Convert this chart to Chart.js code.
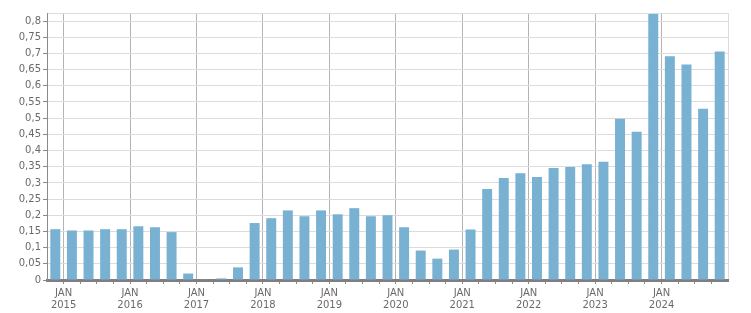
<!DOCTYPE html>
<html>
<head>
<meta charset="utf-8">
<script src="https://cdn.jsdelivr.net/npm/chart.js@4"></script>
<style>
  body { margin: 0; background: #fff; }
  canvas { display: block; }
</style>
</head>
<body>
<canvas id="myChart" width="751" height="313"></canvas>
<script>
// quarterly values, Q4 2014 .. Q4 2024
var quarters = [
  '2014 Q4',
  '2015 Q1', '2015 Q2', '2015 Q3', '2015 Q4',
  '2016 Q1', '2016 Q2', '2016 Q3', '2016 Q4',
  '2017 Q1', '2017 Q2', '2017 Q3', '2017 Q4',
  '2018 Q1', '2018 Q2', '2018 Q3', '2018 Q4',
  '2019 Q1', '2019 Q2', '2019 Q3', '2019 Q4',
  '2020 Q1', '2020 Q2', '2020 Q3', '2020 Q4',
  '2021 Q1', '2021 Q2', '2021 Q3', '2021 Q4',
  '2022 Q1', '2022 Q2', '2022 Q3', '2022 Q4',
  '2023 Q1', '2023 Q2', '2023 Q3', '2023 Q4',
  '2024 Q1', '2024 Q2', '2024 Q3', '2024 Q4'
];
var values = [
  0.157,
  0.153, 0.153, 0.157, 0.157,
  0.166, 0.163, 0.148, 0.020,
  0.002, 0.005, 0.039, 0.176,
  0.191, 0.215, 0.197, 0.215,
  0.203, 0.222, 0.197, 0.200,
  0.163, 0.091, 0.066, 0.094,
  0.156, 0.281, 0.315, 0.330,
  0.318, 0.346, 0.349, 0.358,
  0.365, 0.498, 0.458, 0.822,
  0.691, 0.666, 0.529, 0.706
];
var yearLabelPrefix = 'JAN';
var yMax = 0.825;
var yStep = 0.05;
var xMin = 2014.75, xMax = 2025;

// bar sits in the middle of its quarter on a time-like linear axis
function quarterPos(q) {
  var p = q.split(' Q');
  return +p[0] + (+p[1] - 1) * 0.25 + 0.125;
}

function fmt(v) {
  return String(Math.round(v * 100) / 100).replace('.', ',');
}

function isYear(v) {
  return Math.abs(v - Math.round(v)) < 1e-6;
}

var textColor = '#6d686d';
var none = 'rgba(0,0,0,0)';

function renderChart() {
  var ctx = document.getElementById('myChart').getContext('2d');
  var points = quarters.map(function (q, i) { return { x: quarterPos(q), y: values[i] }; });

  new Chart(ctx, {
    type: 'bar',
    data: {
      datasets: [{
        label: 'data',
        data: points,
        backgroundColor: '#78b1d2',
        barPercentage: 0.6,
        categoryPercentage: 1
      }]
    },
    options: {
      responsive: false,
      animation: false,
      layout: { padding: { top: 13, right: 23, left: 0, bottom: 0 } },
      plugins: { legend: { display: false }, tooltip: { enabled: false } },
      scales: {
        x: {
          type: 'linear',
          offset: false,
          min: xMin,
          max: xMax,
          afterBuildTicks: function (scale) {
            var t = [];
            for (var v = xMin; v <= xMax + 1e-6; v += 0.25) t.push({ value: Math.round(v * 100) / 100 });
            scale.ticks = t;
          },
          afterFit: function (scale) { scale.height = 33; },
          ticks: {
            autoSkip: false,
            maxRotation: 0,
            padding: 3,
            color: textColor,
            font: { family: 'DejaVu Sans', size: 10 },
            callback: function (v) {
              if (isYear(v) && v < xMax) return [yearLabelPrefix, String(Math.round(v))];
              return '';
            }
          },
          grid: {
            offset: false,
            color: function (c) {
              var v = c.tick ? c.tick.value : 0;
              if (Math.abs(v - xMax) < 1e-6) return '#dcdcdc';
              return isYear(v) ? '#b4b4b4' : none;
            },
            tickColor: function (c) {
              var v = c.tick ? c.tick.value : 0;
              if (Math.abs(v - xMin) < 1e-6 || Math.abs(v - xMax) < 1e-6) return none;
              return '#8a8a8a';
            },
            tickLength: 4
          },
          border: { color: '#7f7f7f', width: 3 }
        },
        y: {
          min: 0,
          max: yMax,
          afterBuildTicks: function (scale) {
            var t = [];
            for (var i = 0; i * yStep <= yMax + 1e-6; i++) t.push({ value: Math.round(i * yStep * 100) / 100 });
            t.push({ value: yMax });
            scale.ticks = t;
          },
          afterFit: function (scale) { scale.width = 47; },
          ticks: {
            padding: 2,
            color: textColor,
            font: { family: 'DejaVu Sans', size: 10 },
            callback: function (v) {
              return Math.abs(v - yMax) < 1e-6 ? '' : fmt(v);
            }
          },
          grid: {
            color: '#dcdcdc',
            tickColor: function (c) {
              var v = c.tick ? c.tick.value : 0;
              return Math.abs(v - yMax) < 1e-6 ? none : '#8a8a8a';
            },
            tickLength: 4
          },
          border: { color: '#8a8a8a', width: 1 }
        }
      }
    }
  });
}

renderChart();
</script>
</body>
</html>
